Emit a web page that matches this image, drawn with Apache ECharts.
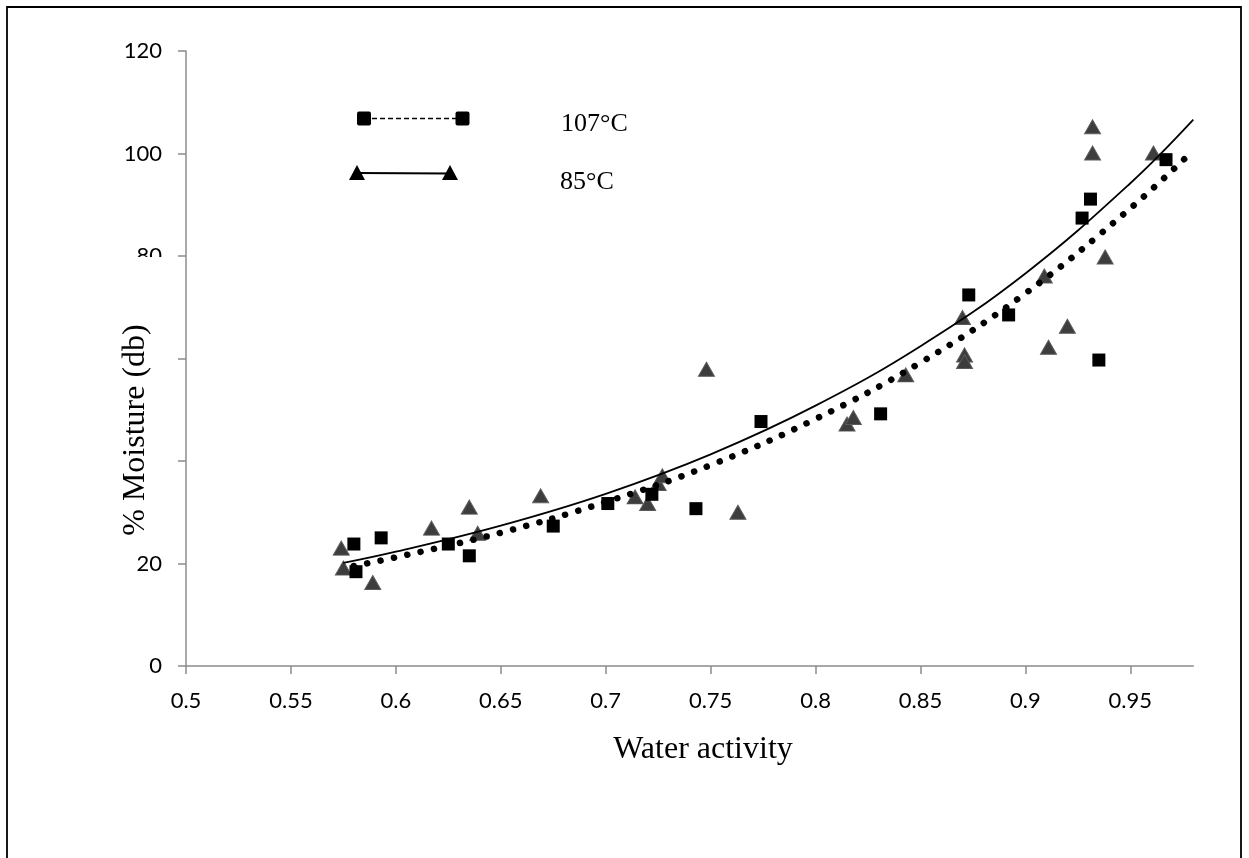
<!DOCTYPE html>
<html>
<head>
<meta charset="utf-8">
<script src="https://cdn.jsdelivr.net/npm/echarts@6/dist/echarts.min.js"></script>
<style>
html,body{margin:0;padding:0;background:#fff;}
#chart{width:1249px;height:858px;}
</style>
</head>
<body>
<div id="chart"></div>
<script>
// 85°C (triangles)
const tri_x = [0.574, 0.575, 0.589, 0.617, 0.635, 0.639, 0.669, 0.714, 0.720, 0.725, 0.727, 0.748, 0.763, 0.815, 0.818, 0.843, 0.870, 0.871, 0.871, 0.909, 0.911, 0.920, 0.932, 0.932, 0.938, 0.961];
const tri_y = [23.0, 19.1, 16.3, 26.9, 31.0, 25.9, 33.2, 33.0, 31.7, 35.6, 37.1, 57.9, 30.0, 47.2, 48.5, 56.8, 68.0, 60.7, 59.4, 76.1, 62.2, 66.3, 105.2, 100.1, 79.8, 100.1];
// 107°C (squares)
const sq_x = [0.580, 0.581, 0.593, 0.625, 0.635, 0.675, 0.701, 0.722, 0.743, 0.774, 0.831, 0.873, 0.892, 0.927, 0.931, 0.935, 0.967];
const sq_y = [23.8, 18.4, 25.0, 23.8, 21.5, 27.3, 31.7, 33.5, 30.7, 47.7, 49.2, 72.4, 68.5, 87.4, 91.1, 59.7, 98.8];
// trend lines
const trend85_x = [0.575, 0.60, 0.65, 0.70, 0.75, 0.80, 0.85, 0.90, 0.95, 0.98];
const trend85_y = [20.1, 22.3, 27.4, 33.6, 41.3, 50.8, 62.4, 76.6, 94.2, 106.6];
const trend107_x = [0.58, 0.60, 0.65, 0.70, 0.75, 0.80, 0.85, 0.90, 0.95, 0.98];
const trend107_y = [19.5, 21.2, 26.0, 32.0, 39.2, 48.2, 59.2, 72.7, 89.3, 100.6];
// tick labels
const xTicks = [0.5, 0.55, 0.6, 0.65, 0.7, 0.75, 0.8, 0.85, 0.9, 0.95];
const yTicks = [0, 20, 40, 60, 80, 100, 120];
const seriesNames = ['107°C', '85°C'];
const xTitle = 'Water activity';
const yTitle = '% Moisture (db)';

const zip = (a, b) => a.map((v, i) => [v, b[i]]);

const chart = echarts.init(document.getElementById('chart'), null, {renderer: 'canvas'});
const serif = '"Liberation Serif", "Times New Roman", serif';
const sans = 'Lato, "Open Sans", sans-serif';

chart.setOption({
  animation: false,
  backgroundColor: '#fff',
  grid: {left: 186, top: 51, right: 55.7, bottom: 192, containLabel: false},
  xAxis: {
    type: 'value', min: 0.5, max: 0.98, interval: 0.05,
    splitLine: {show: false},
    axisLine: {show: true, onZero: false, lineStyle: {color: '#8c8c8c', width: 1.5}},
    axisTick: {show: true, length: 8, customValues: xTicks, lineStyle: {color: '#8c8c8c', width: 1.5}},
    axisLabel: {customValues: xTicks, margin: 24, color: '#000', fontFamily: sans, fontSize: 22,
      formatter: v => String(Math.round(v * 100) / 100)}
  },
  yAxis: {
    type: 'value', min: 0, max: 120, interval: 20,
    splitLine: {show: false},
    axisLine: {show: true, lineStyle: {color: '#8c8c8c', width: 1.5}},
    axisTick: {show: true, length: 8, lineStyle: {color: '#8c8c8c', width: 1.5}},
    axisLabel: {customValues: yTicks, margin: 24, color: '#000', fontFamily: sans, fontSize: 22}
  },
  graphic: [
    {type: 'rect', z: 50, shape: {x: 100, y: 257, width: 76, height: 292}, style: {fill: '#fff'}},
    {type: 'text', z: 100, x: 136, y: 430, rotation: Math.PI / 2,
      style: {text: yTitle, font: '32px ' + serif, fill: '#000', textAlign: 'center', textVerticalAlign: 'middle'}},
    {type: 'text', z: 100, x: 703, y: 750,
      style: {text: xTitle, font: '32px ' + serif, fill: '#000', textAlign: 'center', textVerticalAlign: 'middle'}},
    // legend
    {type: 'line', z: 100, shape: {x1: 364, y1: 118.5, x2: 462, y2: 118.5}, style: {stroke: '#000', lineWidth: 1.5, lineDash: [5, 3]}},
    {type: 'rect', z: 101, shape: {x: 357, y: 111.5, width: 14, height: 14, r: 2}, style: {fill: '#000'}},
    {type: 'rect', z: 101, shape: {x: 455.5, y: 111.5, width: 14, height: 14, r: 2}, style: {fill: '#000'}},
    {type: 'text', z: 100, x: 561, y: 124, style: {text: seriesNames[0], font: '26px ' + serif, fill: '#000', textVerticalAlign: 'middle'}},
    {type: 'line', z: 100, shape: {x1: 357, y1: 173, x2: 450, y2: 173.5}, style: {stroke: '#000', lineWidth: 1.8}},
    {type: 'polygon', z: 101, shape: {points: [[357, 165], [349, 180], [365, 180]]}, style: {fill: '#000'}},
    {type: 'polygon', z: 101, shape: {points: [[450, 165], [442, 180], [458, 180]]}, style: {fill: '#000'}},
    {type: 'text', z: 100, x: 560, y: 182, style: {text: seriesNames[1], font: '26px ' + serif, fill: '#000', textVerticalAlign: 'middle'}},
    // outer frame
    {type: 'rect', z: 100, shape: {x: 7, y: 7, width: 1234, height: 900}, style: {fill: 'none', stroke: '#000', lineWidth: 1.8}}
  ],
  series: [
    {name: seriesNames[1], type: 'scatter', z: 2, symbol: 'triangle', symbolSize: [16, 14],
      itemStyle: {color: '#3d3d3d', borderColor: '#5a5a5a', borderWidth: 1, opacity: 1},
      data: zip(tri_x, tri_y)},
    {name: seriesNames[0], type: 'scatter', z: 3, symbol: 'rect', symbolSize: 13,
      itemStyle: {color: '#000', opacity: 1},
      data: zip(sq_x, sq_y)},
    {name: 'trend ' + seriesNames[1], type: 'line', z: 4, smooth: 0.4, showSymbol: false, silent: true,
      lineStyle: {color: '#000', width: 1.8},
      data: zip(trend85_x, trend85_y)},
    {name: 'trend ' + seriesNames[0], type: 'line', z: 5, smooth: 0.4, showSymbol: false, silent: true,
      lineStyle: {color: '#000', width: 6.5, type: [0.1, 13.5], cap: 'round'},
      data: zip(trend107_x, trend107_y)}
  ]
});
</script>
</body>
</html>
